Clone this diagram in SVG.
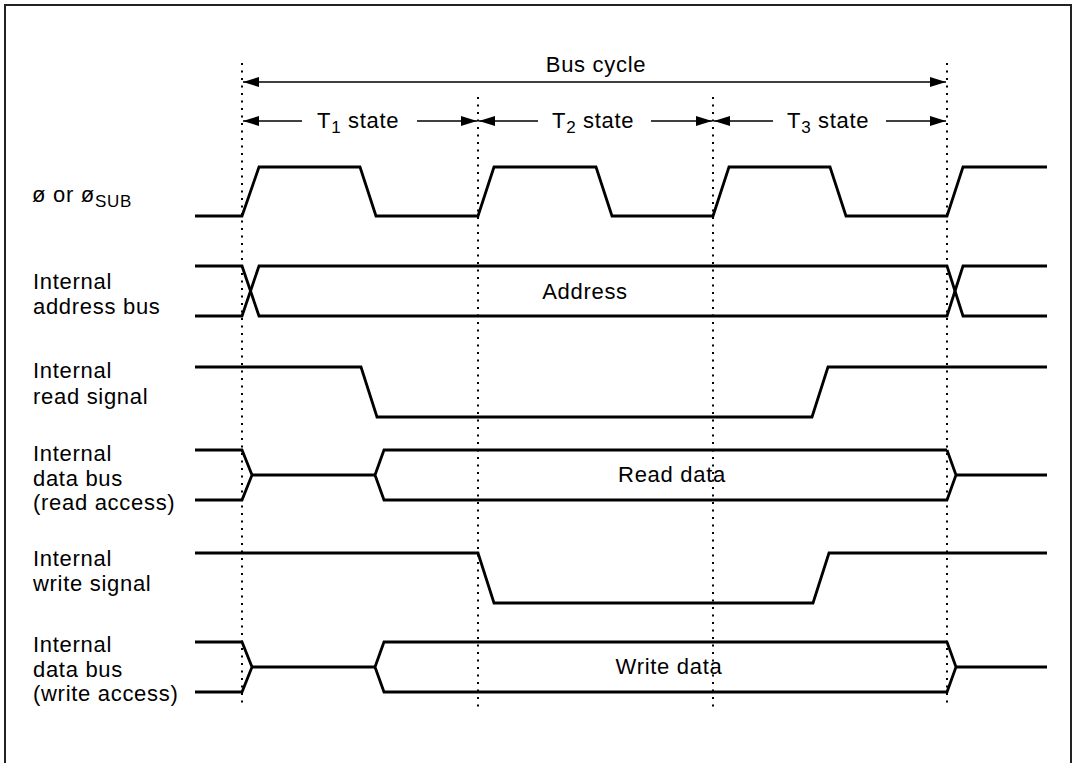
<svg xmlns="http://www.w3.org/2000/svg" width="1074" height="763" viewBox="0 0 1074 763">
<defs>
<style>
.t{font-family:"Liberation Sans",Arial,sans-serif;font-size:22px;fill:#000;letter-spacing:0.7px}
.sub{font-size:17px}
.sig{fill:none;stroke:#000;stroke-width:2.8;stroke-linejoin:miter}
.dot{fill:none;stroke:#000;stroke-width:2;stroke-dasharray:2 5.5}
.arr{fill:none;stroke:#000;stroke-width:1.6}
</style>
<marker id="ah" viewBox="0 0 16 10" refX="16" refY="5" markerWidth="16" markerHeight="10" markerUnits="userSpaceOnUse" orient="auto">
<path d="M0,0 L16,5 L0,10 Z" fill="#000"/>
</marker>
</defs>
<rect x="0" y="0" width="1074" height="763" fill="#fff"/>
<path d="M5,770 L5,5 L1071,5 L1071,770" fill="none" stroke="#222" stroke-width="2"/>

<g id="gridlines">
<line class="dot" x1="242" y1="63" x2="242" y2="708"/>
<line class="dot" x1="478" y1="97" x2="478" y2="708"/>
<line class="dot" x1="713" y1="97" x2="713" y2="708"/>
<line class="dot" x1="947" y1="63" x2="947" y2="708"/>
</g>

<g id="timing-arrows">
<line class="arr" x1="596" y1="82" x2="243" y2="82" marker-end="url(#ah)"/>
<line class="arr" x1="596" y1="82" x2="946" y2="82" marker-end="url(#ah)"/>
<text class="t" x="596" y="72" text-anchor="middle">Bus cycle</text>

<line class="arr" x1="302" y1="121" x2="243" y2="121" marker-end="url(#ah)"/>
<line class="arr" x1="417" y1="121" x2="477" y2="121" marker-end="url(#ah)"/>
<text class="t" x="317" y="128">T<tspan class="sub" dy="5">1</tspan><tspan dy="-5"> state</tspan></text>

<line class="arr" x1="538" y1="121" x2="479" y2="121" marker-end="url(#ah)"/>
<line class="arr" x1="651" y1="121" x2="712" y2="121" marker-end="url(#ah)"/>
<text class="t" x="552" y="128">T<tspan class="sub" dy="5">2</tspan><tspan dy="-5"> state</tspan></text>

<line class="arr" x1="773" y1="121" x2="714" y2="121" marker-end="url(#ah)"/>
<line class="arr" x1="886" y1="121" x2="946" y2="121" marker-end="url(#ah)"/>
<text class="t" x="787" y="128">T<tspan class="sub" dy="5">3</tspan><tspan dy="-5"> state</tspan></text>
</g>

<g id="clock">
<text class="t" x="32" y="202">ø or ø<tspan class="sub" dy="5">SUB</tspan></text>
<path class="sig" d="M195,216 L242,216 L259,167 L360,167 L376,216 L478,216 L494,167 L596,167 L612,216 L713,216 L729,167 L830,167 L846,216 L947,216 L963,167 L1047,167"/>
</g>

<g id="address-bus">
<text class="t" x="33" y="289">Internal</text>
<text class="t" x="33" y="314">address bus</text>
<path class="sig" d="M195,266 L242,266 L259,316 L947,316 L963,266 L1047,266"/>
<path class="sig" d="M195,316 L242,316 L259,266 L947,266 L963,316 L1047,316"/>
<text class="t" x="585" y="299" text-anchor="middle">Address</text>
</g>

<g id="read-signal">
<text class="t" x="33" y="378">Internal</text>
<text class="t" x="33" y="404">read signal</text>
<path class="sig" d="M195,367 L361,367 L377,417 L812,417 L828,367 L1047,367"/>
</g>

<g id="read-data-bus">
<text class="t" x="33" y="461">Internal</text>
<text class="t" x="33" y="486">data bus</text>
<text class="t" x="33" y="510">(read access)</text>
<path class="sig" d="M195,450 L242,450 L252,475 L242,500 L195,500"/>
<path class="sig" d="M252,475 L375,475"/>
<path class="sig" d="M947,450 L384,450 L375,475 L384,500 L947,500 L956,475 L947,450"/>
<path class="sig" d="M956,475 L1047,475"/>
<text class="t" x="672" y="482" text-anchor="middle">Read data</text>
</g>

<g id="write-signal">
<text class="t" x="33" y="566">Internal</text>
<text class="t" x="33" y="591">write signal</text>
<path class="sig" d="M195,553 L478,553 L494,603 L813,603 L829,553 L1047,553"/>
</g>

<g id="write-data-bus">
<text class="t" x="33" y="652">Internal</text>
<text class="t" x="33" y="677">data bus</text>
<text class="t" x="33" y="701">(write access)</text>
<path class="sig" d="M195,642 L242,642 L252,667 L242,692 L195,692"/>
<path class="sig" d="M252,667 L375,667"/>
<path class="sig" d="M947,642 L384,642 L375,667 L384,692 L947,692 L956,667 L947,642"/>
<path class="sig" d="M956,667 L1047,667"/>
<text class="t" x="669" y="674" text-anchor="middle">Write data</text>
</g>
</svg>
